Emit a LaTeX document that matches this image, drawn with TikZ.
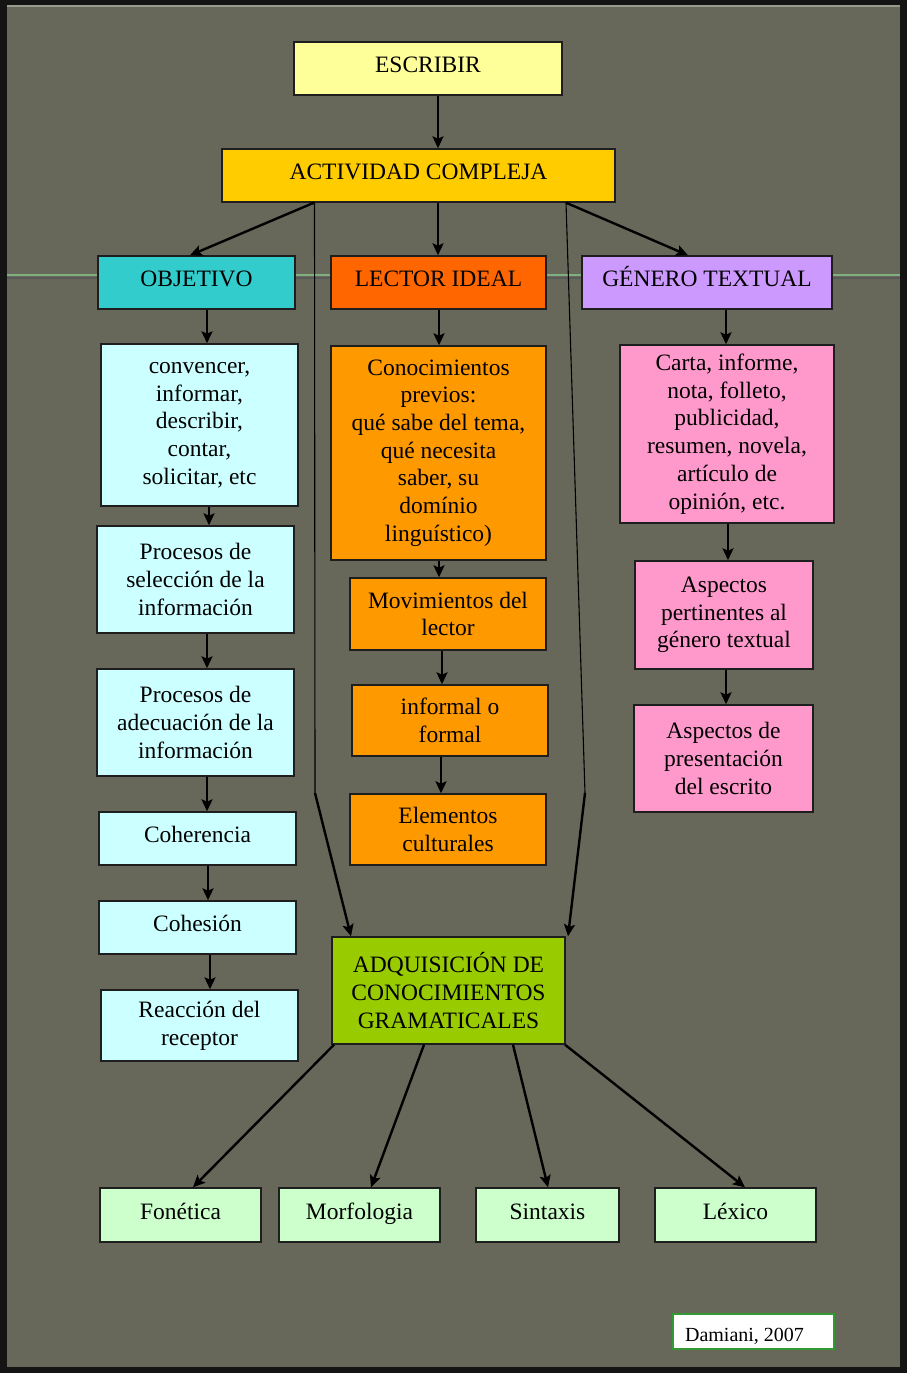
\documentclass[tikz,border=0pt]{standalone}
\usepackage{fontspec}
\setmainfont{Liberation Serif}
\usetikzlibrary{arrows.meta,calc}
\definecolor{bgc}{HTML}{676859}
\definecolor{frameline}{HTML}{9A9A8C}
\definecolor{hline}{HTML}{80B080}
\definecolor{cyescribir}{HTML}{FFFF99}
\definecolor{cyact}{HTML}{FFCC00}
\definecolor{cyobj}{HTML}{33CCCC}
\definecolor{cylector}{HTML}{FF6600}
\definecolor{cygen}{HTML}{CC99FF}
\definecolor{cylcyan}{HTML}{CCFFFF}
\definecolor{cyorange}{HTML}{FF9900}
\definecolor{cypink}{HTML}{FF99CC}
\definecolor{cyadq}{HTML}{99CC00}
\definecolor{cyleaf}{HTML}{CCFFCC}
\definecolor{cydam}{HTML}{339933}
\definecolor{boxline}{HTML}{1E1E1E}
\tikzset{
  box/.style={draw=boxline, line width=1.4pt, inner sep=0pt, align=center,
    font=\fontsize{23.5}{27.7}\selectfont},
  oneline/.style={text height=17pt, text depth=9pt},
  arr/.style={draw=black, line width=2.4pt, -{Stealth[length=12pt,width=11pt,inset=2.5pt]}},
  thinline/.style={draw=black, line width=1.1pt},
}
\begin{document}
\begin{tikzpicture}[x=1pt,y=-1pt]
\useasboundingbox (0,0) rectangle (907,1373);
% frame and background
\fill[black!92] (0,0) rectangle (907,1373);
\fill[bgc] (7,5) rectangle (900,1367);
\draw[frameline, line width=2pt] (7,6) -- (900,6);
\draw[black!65, line width=2pt] (7,277.5) -- (900,277.5);
\draw[hline, line width=2.2pt] (7,275) -- (900,275);

% nodes
\node[box, oneline, fill=cyescribir, minimum width=268pt, minimum height=53pt] (esc) at (428,68.5) {ESCRIBIR};
\node[box, oneline, fill=cyact, minimum width=393pt, minimum height=53pt] (act) at (418.5,175.5) {ACTIVIDAD COMPLEJA};
\node[box, oneline, fill=cyobj, minimum width=197pt, minimum height=53pt] (obj) at (196.5,282.5) {OBJETIVO};
\node[box, oneline, fill=cylector, minimum width=215pt, minimum height=53pt] (lec) at (438.5,282.5) {LECTOR IDEAL};
\node[box, oneline, fill=cygen, minimum width=250pt, minimum height=53pt] (gen) at (707,282.5) {GÉNERO TEXTUAL};

\node[box, fill=cylcyan, minimum width=197pt, minimum height=162pt] (conv) at (199.5,425) {convencer,\\informar,\\describir,\\contar,\\solicitar, etc};
\node[box, fill=cylcyan, minimum width=197pt, minimum height=107pt] (sel) at (195.5,579.5) {Procesos de\\selección de la\\información};
\node[box, fill=cylcyan, minimum width=197pt, minimum height=107pt] (adec) at (195.5,722.5) {Procesos de\\adecuación de la\\información};
\node[box, oneline, fill=cylcyan, minimum width=197pt, minimum height=53pt] (coher) at (197.5,838.5) {Coherencia};
\node[box, oneline, fill=cylcyan, minimum width=197pt, minimum height=53pt] (cohes) at (197.5,927.5) {Cohesión};
\node[box, fill=cylcyan, minimum width=197pt, minimum height=71pt] (reac) at (199.5,1025.5) {Reacción del\\receptor};

\node[box, fill=cyorange, minimum width=215pt, minimum height=214pt] (conoc) at (438.5,453) {Conocimientos\\previos:\\qué sabe del tema,\\qué necesita\\saber, su\\domínio\\linguístico)};
\node[box, fill=cyorange, minimum width=196pt, minimum height=72pt] (mov) at (448,614) {Movimientos del\\lector};
\node[box, fill=cyorange, minimum width=196pt, minimum height=71pt] (inf) at (450,720.5) {informal o\\formal};
\node[box, fill=cyorange, minimum width=196pt, minimum height=71pt] (elem) at (448,829.5) {Elementos\\culturales};

\node[box, fill=cypink, minimum width=214pt, minimum height=178pt] (carta) at (727,434) {Carta, informe,\\nota, folleto,\\publicidad,\\resumen, novela,\\artículo de\\opinión, etc.};
\node[box, fill=cypink, minimum width=178pt, minimum height=108pt] (aspp) at (724,615) {Aspectos\\pertinentes al\\género textual};
\node[box, fill=cypink, minimum width=179pt, minimum height=107pt] (aspr) at (723.5,758.5) {Aspectos de\\presentación\\del escrito};

\node[box, fill=cyadq, minimum width=233pt, minimum height=107pt] (adq) at (448.5,990.5) {ADQUISICIÓN DE\\CONOCIMIENTOS\\GRAMATICALES};

\node[box, oneline, fill=cyleaf, minimum width=161pt, minimum height=54pt] (fon) at (180.5,1215) {Fonética};
\node[box, oneline, fill=cyleaf, minimum width=161pt, minimum height=54pt] (mor) at (359.5,1215) {Morfologia};
\node[box, oneline, fill=cyleaf, minimum width=143pt, minimum height=54pt] (sin) at (547.5,1215) {Sintaxis};
\node[box, oneline, fill=cyleaf, minimum width=161pt, minimum height=54pt] (lex) at (735.5,1215) {Léxico};

\node[draw=cydam, fill=white, line width=1.4pt, inner sep=0pt, minimum width=161pt, minimum height=35pt,
  text height=19pt, text depth=0pt,
  font=\fontsize{20}{24}\selectfont] (dam) at (753.5,1331.5) {Damiani, 2007\hspace*{18pt}};

% connectors
\draw[arr] ([xshift=10pt]esc.south) -- ([xshift=19.5pt]act.north);
\draw[arr] ([xshift=-104.5pt]act.south) -- ([xshift=-6.5pt]obj.north);
\draw[arr] ([xshift=19.5pt]act.south) -- ([xshift=-0.5pt]lec.north);
\draw[arr] ([xshift=147.5pt]act.south) -- ([xshift=-19pt]gen.north);

\coordinate (lk) at (315,793);
\coordinate (rk) at (585,793);
\draw[thinline] ([xshift=-104pt]act.south) -- (lk);
\draw[arr] (lk) -- ([xshift=-97.5pt]adq.north);
\draw[thinline] ([xshift=147.5pt]act.south) -- (rk);
\draw[arr] (rk) -- ([xshift=119.5pt]adq.north);

\draw[arr] ([xshift=10.5pt]obj.south) -- ([xshift=7.5pt]conv.north);
\draw[arr] ([xshift=9.5pt]conv.south) -- ([xshift=13.5pt]sel.north);
\draw[arr] ([xshift=11.5pt]sel.south) -- ([xshift=11.5pt]adec.north);
\draw[arr] ([xshift=11.5pt]adec.south) -- ([xshift=9.5pt]coher.north);
\draw[arr] ([xshift=10.5pt]coher.south) -- ([xshift=10.5pt]cohes.north);
\draw[arr] ([xshift=12.5pt]cohes.south) -- ([xshift=10.5pt]reac.north);

\draw[arr] ([xshift=0.5pt]lec.south) -- ([xshift=0.5pt]conoc.north);
\draw[arr] ([xshift=0.5pt]conoc.south) -- ([xshift=-9pt]mov.north);
\draw[arr] ([xshift=-6pt]mov.south) -- ([xshift=-8pt]inf.north);
\draw[arr] ([xshift=-9pt]inf.south) -- ([xshift=-7pt]elem.north);

\draw[arr] ([xshift=19pt]gen.south) -- ([xshift=-1pt]carta.north);
\draw[arr] ([xshift=1pt]carta.south) -- ([xshift=4pt]aspp.north);
\draw[arr] ([xshift=2pt]aspp.south) -- ([xshift=2.5pt]aspr.north);

\draw[arr] ([xshift=-114.5pt]adq.south) -- ([xshift=12.5pt]fon.north);
\draw[arr] ([xshift=-24.5pt]adq.south) -- ([xshift=11.5pt]mor.north);
\draw[arr] ([xshift=64.5pt]adq.south) -- ([xshift=0.5pt]sin.north);
\draw[arr] ([xshift=116.5pt]adq.south) -- ([xshift=9.5pt]lex.north);
\end{tikzpicture}
\end{document}
